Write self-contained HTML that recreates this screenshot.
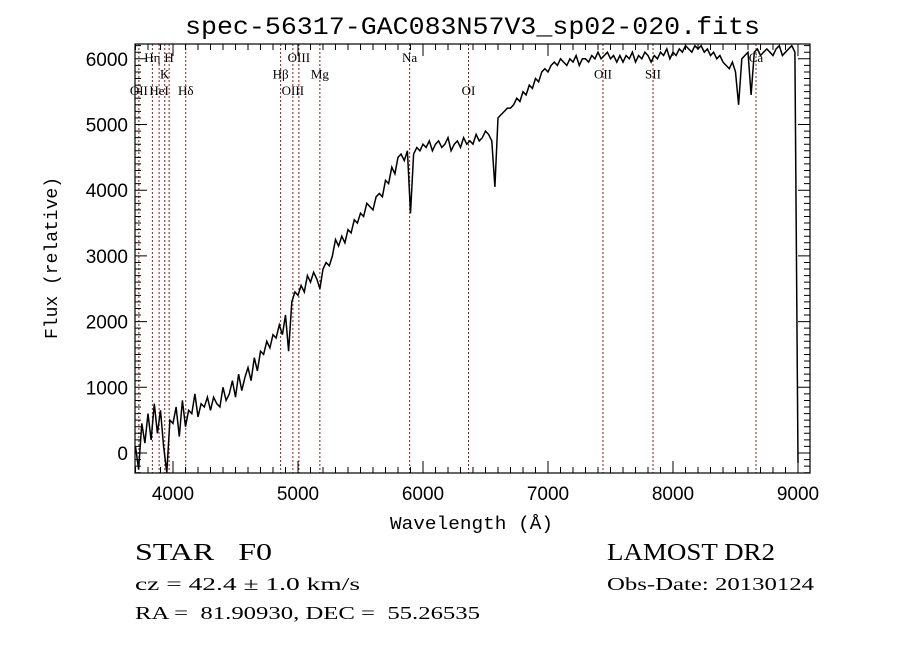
<!DOCTYPE html>
<html><head><meta charset="utf-8"><style>
html,body{margin:0;padding:0;background:#fff;}
svg{display:block;}
</style></head><body>
<svg id="chart" width="900" height="649" viewBox="0 0 900 649" xmlns="http://www.w3.org/2000/svg">
<rect width="900" height="649" fill="#fff"/>
<text x="185" y="34" textLength="575" lengthAdjust="spacingAndGlyphs" font-family="Liberation Mono, monospace" font-size="25" fill="#000">spec-56317-GAC083N57V3_sp02-020.fits</text>
<g id="lines"></g>
<g id="spec"></g>
<g id="axes"></g>
<text x="390" y="529" textLength="163" lengthAdjust="spacingAndGlyphs" font-family="Liberation Mono, monospace" font-size="18">Wavelength (Å)</text>
<text transform="translate(57,258) rotate(-90)" text-anchor="middle" font-family="Liberation Mono, monospace" font-size="18">Flux (relative)</text>
<g font-family="Liberation Serif, serif" fill="#000">
<text x="135" y="560" font-size="24" textLength="137" lengthAdjust="spacingAndGlyphs">STAR&#160;&#160;&#160;F0</text>
<text x="135" y="590" font-size="18" textLength="225" lengthAdjust="spacingAndGlyphs">cz = 42.4 ± 1.0 km/s</text>
<text x="135" y="619" font-size="18" textLength="345" lengthAdjust="spacingAndGlyphs">RA =&#160;&#160;81.90930, DEC =&#160;&#160;55.26535</text>
<text x="607" y="560" font-size="24" textLength="168" lengthAdjust="spacingAndGlyphs">LAMOST DR2</text>
<text x="607" y="590" font-size="18" textLength="207" lengthAdjust="spacingAndGlyphs">Obs-Date: 20130124</text>
</g>
</svg>
<script>
const wlStart = 3700;
const wlStep = 25;
const flux = [100,-250,450,150,600,200,750,300,650,100,-300,500,
450,700,250,800,400,650,600,900,550,750,700,850,
650,850,750,700,1000,800,900,1100,850,1200,950,1150,
1300,1100,1450,1250,1550,1500,1700,1600,1800,1750,1950,1800,
2100,1550,2300,2450,2400,2550,2450,2700,2600,2750,2650,2500,
2800,2900,2850,3000,3250,3150,3300,3200,3400,3350,3550,3500,
3650,3600,3800,3750,3700,3900,3950,3900,4150,4100,4350,4250,
4500,4550,4450,4600,3650,4550,4650,4600,4700,4650,4750,4600,
4700,4750,4650,4700,4800,4600,4700,4750,4650,4800,4700,4750,
4700,4850,4750,4800,4900,4850,4750,4050,5100,5150,5200,5250,
5250,5300,5400,5350,5500,5450,5600,5550,5700,5650,5800,5850,
5800,5900,5950,5900,6000,5950,5900,6000,5950,6050,5900,6000,
6000,5950,6050,6000,6100,6000,6050,6100,6000,6050,5950,6050,
5950,6050,6000,6100,5950,6050,6000,6100,6050,5950,6050,6000,
6100,6050,6150,6000,6100,6050,6150,6100,6200,6150,6100,6200,
6150,6200,6100,6150,6050,6100,6000,6050,5950,5900,5850,5950,
5800,5300,6000,6050,6100,5450,6100,6150,6050,6100,6150,6100,
6050,6150,6200,6050,6100,6150,6200,6100,-150];
const lineWaves = [3727,3835,3889,3934,3969,4102,4861,4959,5007,5175,5893,6364,7440,7840,8664];
const lineNames = ["OII","Hη","HeI","K","H","Hδ","Hβ","OIII","OIII","Mg","Na","OI","OII","SII","Ca"];
const lineRows = [2,0,2,1,0,2,1,2,0,1,0,2,1,1,0];
const xTicks = [4000,5000,6000,7000,8000,9000];
const yTicks = [0,1000,2000,3000,4000,5000,6000];

const L=135,R=810,T=44,B=473;
const X=w=>173+(w-4000)*0.125;
const Y=f=>453-f*0.0657;
const NS="http://www.w3.org/2000/svg";
function mk(tag,parent){const e=document.createElementNS(NS,tag);parent.appendChild(e);return e;}

const lg=document.getElementById('lines');
lineWaves.forEach((w,i)=>{
  const l=mk('line',lg);
  
  
  l.setAttribute('x1',X(w));l.setAttribute('x2',X(w));l.setAttribute('y1',T);l.setAttribute('y2',B);
  l.setAttribute('stroke','#8b1a1a');l.setAttribute('stroke-width','1');l.setAttribute('stroke-dasharray','2,2');
  const t=mk('text',lg);
  
  
  t.setAttribute('x',X(w));t.setAttribute('y',62+lineRows[i]*16.5);
  t.setAttribute('text-anchor','middle');t.setAttribute('font-family','Liberation Serif, serif');t.setAttribute('font-size','13');
  t.textContent=lineNames[i];
});

const sg=document.getElementById('spec');
let d='';
flux.forEach((f,i)=>{const w=wlStart+i*wlStep;d+=(i?'L':'M')+X(w).toFixed(1)+' '+Math.max(T,Math.min(B,Y(f))).toFixed(1)+' ';});
const p=mk('path',sg);


p.setAttribute('d',d);p.setAttribute('fill','none');p.setAttribute('stroke','#000');p.setAttribute('stroke-width','1.5');

const ag=document.getElementById('axes');
const fr=mk('rect',ag);


fr.setAttribute('x',L);fr.setAttribute('y',T);fr.setAttribute('width',R-L);fr.setAttribute('height',B-T);
fr.setAttribute('fill','none');fr.setAttribute('stroke','#000');fr.setAttribute('stroke-width','1.2');
let td='';
for(let w=3700;w<=9100;w+=100){const x=X(w);if(x<L||x>R)continue;const len=(w%1000===0)?12:6;td+=`M${x} ${B}v${-len}M${x} ${T}v${len}`;}
for(let f=-300;f<=6200;f+=100){const y=Y(f);if(y<T||y>B)continue;const len=(f%1000===0)?12:6;td+=`M${L} ${y}h${len}M${R} ${y}h${-len}`;}
const tk=mk('path',ag);


tk.setAttribute('d',td);tk.setAttribute('stroke','#000');tk.setAttribute('stroke-width','1');
xTicks.forEach(w=>{const t=mk('text',ag);
  
  
  t.setAttribute('x',X(w));t.setAttribute('y',B+27);t.setAttribute('text-anchor','middle');
  t.setAttribute('font-family','Liberation Sans, sans-serif');t.setAttribute('font-size','19');t.textContent=w;});
yTicks.forEach(f=>{const t=mk('text',ag);
  
  
  t.setAttribute('x',L-7);t.setAttribute('y',Y(f)+7);t.setAttribute('text-anchor','end');
  t.setAttribute('font-family','Liberation Sans, sans-serif');t.setAttribute('font-size','19');t.textContent=f;});
</script>
</body></html>
